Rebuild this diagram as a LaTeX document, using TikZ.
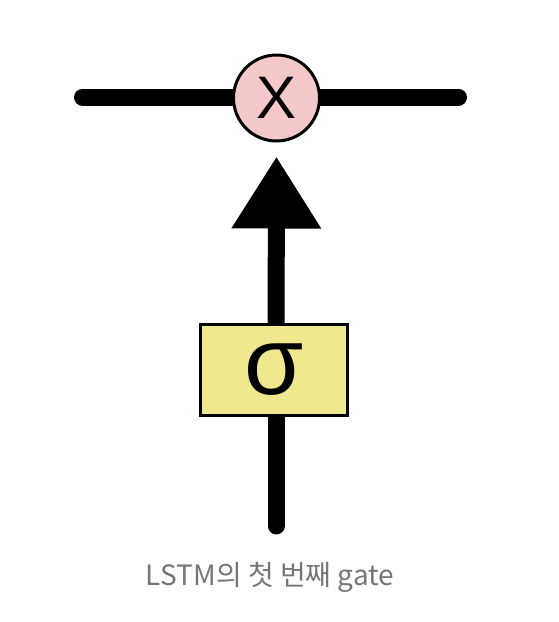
\documentclass[tikz,border=0pt]{standalone}
\usepackage{fontspec}
\setmainfont{Liberation Sans}
\newfontfamily\krfont{Noto Sans CJK KR}
\usetikzlibrary{arrows.meta,backgrounds}
\definecolor{gatepink}{RGB}{245,201,201}
\definecolor{gateyellow}{RGB}{240,232,142}
\definecolor{capgray}{RGB}{118,118,118}
\tikzset{
  thickline/.style={line width=17pt, line cap=round, black},
  opcircle/.style={circle, draw=black, line width=3pt, fill=gatepink, minimum size=86pt, inner sep=0pt, font=\fontsize{60}{60}\selectfont},
  sigbox/.style={rectangle, draw=black, line width=3pt, fill=gateyellow, minimum width=147pt, minimum height=91pt, inner sep=0pt, font=\fontsize{96}{96}\selectfont},
  captext/.style={text=capgray, font=\krfont\fontsize{28}{28}\selectfont}
}
\begin{document}
\begin{tikzpicture}[x=1pt,y=-1pt]
\useasboundingbox (0,0) rectangle (558,622);
\coordinate (lend) at (82.5,97);
\coordinate (rend) at (458.5,97);
\coordinate (bend) at (276,526);
\node[opcircle] (mul) at (276.5,98) {X};
\node[sigbox] (sig) at (274,370) {σ};
\begin{pgfonlayer}{background}
\draw[thickline] (lend) -- (rend);
\draw[line width=17pt, -{Triangle[width=85pt,length=72pt]}, shorten >=14pt] (276,370) -- (mul.south);
\draw[thickline] (276,370) -- (bend);
\end{pgfonlayer}
\node[captext] (cap) at (270,577) {LSTM의 첫 번째 gate};
\end{tikzpicture}
\end{document}
